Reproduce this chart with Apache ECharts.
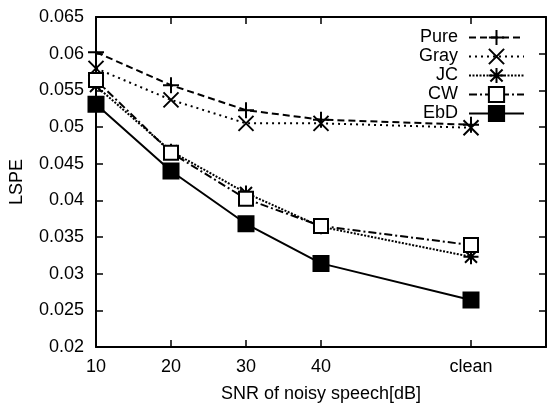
<!DOCTYPE html>
<html><head><meta charset="utf-8">
<script src="https://cdn.jsdelivr.net/npm/echarts@6/dist/echarts.min.js"></script>
<style>html,body{margin:0;padding:0;background:#fff}#c{width:547px;height:408px}</style>
</head><body><div id="c"></div>
<script>
const categories = ['10', '20', '30', '40', 'clean'];
const xValues = [10, 20, 30, 40, 60];
const seriesNames = ['Pure', 'Gray', 'JC', 'CW', 'EbD'];
const pure = [0.0602, 0.0557, 0.0523, 0.0510, 0.0503];
const gray = [0.0580, 0.0537, 0.0505, 0.0505, 0.0499];
const jc   = [0.0556, 0.0467, 0.0410, 0.0364, 0.0323];
const cw   = [0.0564, 0.0465, 0.0402, 0.0365, 0.0339];
const ebd  = [0.0531, 0.0440, 0.0368, 0.0314, 0.0264];
const yTicks = [0.02, 0.025, 0.03, 0.035, 0.04, 0.045, 0.05, 0.055, 0.06, 0.065];

const font = 'Liberation Sans, Arial, Helvetica, sans-serif';
const fs = 18;
const pair = arr => arr.map((v, i) => [xValues[i], v]);
const labelOf = v => { const i = xValues.indexOf(v); return i >= 0 ? categories[i] : ''; };

const symPlus = 'path://M0,5L10,5M5,0L5,10';
const symX = 'path://M0,0L10,10M0,10L10,0';
const symStar = 'path://M0,5L10,5M5,0L5,10M1,1L9,9M1,9L9,1';

function mk(name, data, dash, symbol, size, fill) {
  return {
    name, type: 'line', data: pair(data),
    symbol, symbolSize: size, showAllSymbol: true,
    lineStyle: { color: '#000', width: 2, type: dash },
    itemStyle: { color: fill, borderColor: '#000', borderWidth: 2 },
    emphasis: { disabled: true }, animation: false
  };
}

const chart = echarts.init(document.getElementById('c'));
chart.setOption({
  animation: false,
  grid: { left: 95, right: 1, top: 17, bottom: 55 },
  legend: {
    orient: 'vertical', align: 'right', right: 17, top: 23,
    itemWidth: 55, itemHeight: 19, itemGap: 0,
    textStyle: { fontFamily: font, fontSize: fs, color: '#000', lineHeight: 19, padding: [0, 6, 0, 0] },
    data: seriesNames
  },
  xAxis: [{
    type: 'value', min: 10, max: 70, interval: 10,
    name: 'SNR of noisy speech[dB]', nameLocation: 'middle', nameGap: 38,
    nameTextStyle: { fontFamily: font, fontSize: fs, color: '#000' },
    axisLine: { lineStyle: { color: '#000', width: 2 } },
    axisTick: { inside: true, length: 7, customValues: xValues, lineStyle: { color: '#000', width: 1.5 } },
    axisLabel: { customValues: xValues, formatter: v => labelOf(v), fontFamily: font, fontSize: fs, color: '#000', margin: 11 },
    splitLine: { show: false }
  }, {
    type: 'value', min: 10, max: 70, position: 'top',
    axisLine: { lineStyle: { color: '#000', width: 2 } },
    axisTick: { inside: true, length: 7, customValues: xValues, lineStyle: { color: '#000', width: 1.5 } },
    axisLabel: { show: false }, splitLine: { show: false }
  }],
  yAxis: [{
    type: 'value', min: 0.02, max: 0.065, interval: 0.005,
    name: 'LSPE', nameLocation: 'middle', nameGap: 70, nameRotate: 90,
    nameTextStyle: { fontFamily: font, fontSize: fs, color: '#000' },
    axisLine: { show: true, lineStyle: { color: '#000', width: 2 } },
    axisTick: { show: true, inside: true, length: 7, lineStyle: { color: '#000', width: 1.5 } },
    axisLabel: { formatter: v => String(+v.toFixed(3)), fontFamily: font, fontSize: fs, color: '#000', margin: 12 },
    splitLine: { show: false }
  }, {
    type: 'value', min: 0.02, max: 0.065, interval: 0.005, position: 'right',
    axisLine: { show: true, lineStyle: { color: '#000', width: 2 } },
    axisTick: { show: true, inside: true, length: 7, lineStyle: { color: '#000', width: 1.5 } },
    axisLabel: { show: false }, splitLine: { show: false }
  }],
  series: [
    mk('Pure', pure, [7, 4], symPlus, 16, 'transparent'),
    mk('Gray', gray, [2, 4], symX, 15, 'transparent'),
    mk('JC', jc, [2, 1.5], symStar, 15, 'transparent'),
    mk('CW', cw, [8, 3, 2, 3], 'rect', 14, '#fff'),
    mk('EbD', ebd, 'solid', 'rect', 15, '#000')
  ]
});
</script></body></html>
